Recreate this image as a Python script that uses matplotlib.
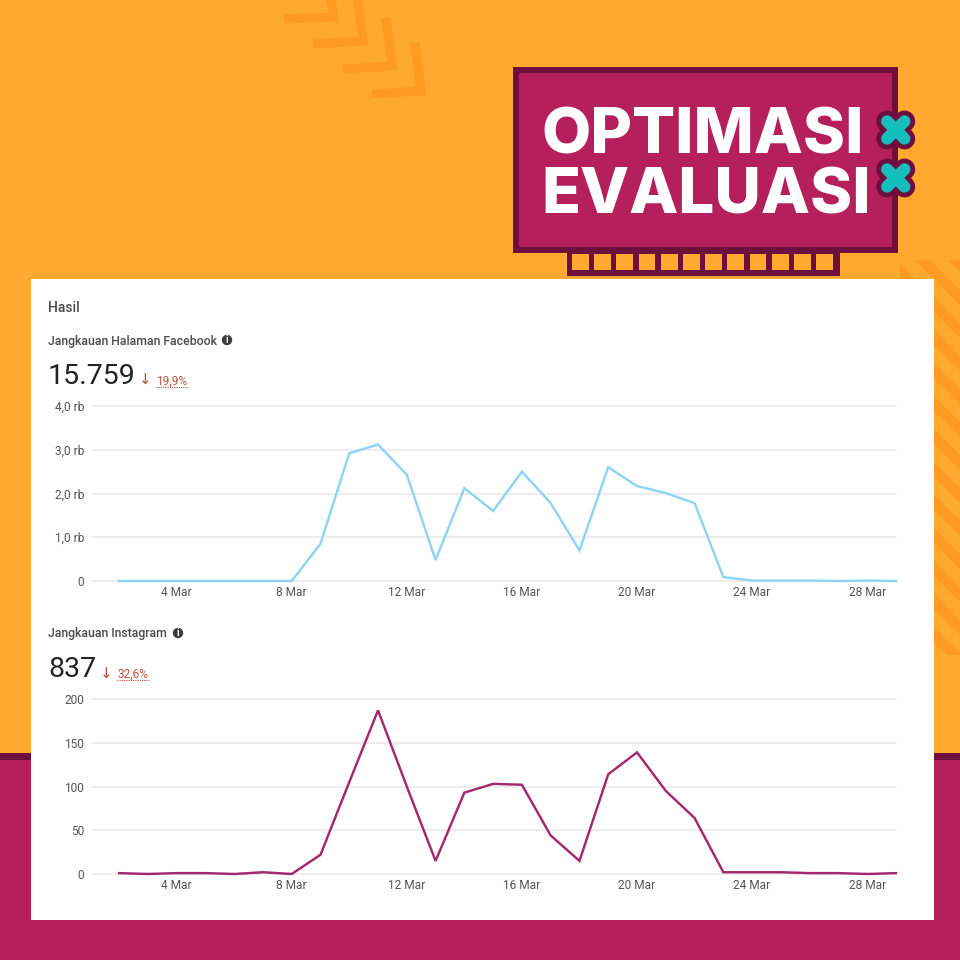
import matplotlib
matplotlib.use("Agg")
import matplotlib.pyplot as plt
from matplotlib.patches import Rectangle, Polygon, Circle

plt.rcParams['font.family'] = ['Roboto', 'DejaVu Sans']

# data
days = list(range(2, 30))
facebook_reach = [0, 0, 0, 0, 0, 0, 0, 0.85, 2.92, 3.12, 2.43, 0.48, 2.12, 1.6,
                  2.5, 1.78, 0.7, 2.6, 2.17, 2.01, 1.78, 0.09, 0.01, 0.01, 0.01,
                  0, 0.01, 0]
instagram_reach = [1, 0, 1, 1, 0, 2, 0, 22, 105, 187, 100, 15, 93, 103,
                   102, 44, 15, 114, 139, 95, 64, 2, 2, 2, 1, 1, 0, 1]
x_ticks = [4, 8, 12, 16, 20, 24, 28]
x_labels = ['4 Mar', '8 Mar', '12 Mar', '16 Mar', '20 Mar', '24 Mar', '28 Mar']
fb_ticks = [0, 1, 2, 3, 4]
fb_labels = ['0', '1,0 rb', '2,0 rb', '3,0 rb', '4,0 rb']
ig_ticks = [0, 50, 100, 150, 200]
ig_labels = ['0', '50', '100', '150', '200']

# warna
ORANGE = '#FFA931'
ORANGE_DARK = '#FF9A22'
CRIMSON = '#B5205C'
MAROON = '#6E0E3C'
TEAL = '#12BFBD'
FB_LINE = '#8FD4F6'
IG_LINE = '#A3286F'
GRID = '#E9E9E9'
TEXT = '#4A4A4A'
RED = '#B9523F'

fig = plt.figure(figsize=(9.6, 9.6), dpi=100, facecolor=ORANGE)

# background layer in pixel coordinates
bg = fig.add_axes([0, 0, 1, 1])
bg.set_xlim(0, 960)
bg.set_ylim(960, 0)
bg.axis('off')

bg.add_patch(Rectangle((0, 753), 960, 7, fc=MAROON, ec='none'))
bg.add_patch(Rectangle((0, 760), 960, 200, fc=CRIMSON, ec='none'))

# chevrons top
for sx, sy, cx, cy, ex, ey in [(284, 19, 334, 17, 330, -5),
                               (313, 44, 363, 41, 357, -5),
                               (343, 69, 392, 66, 386, 18),
                               (372, 94, 421, 91, 415, 43)]:
    bg.plot([sx, cx, ex], [sy, cy, ey], color=ORANGE_DARK, lw=6.5,
            solid_joinstyle='miter', solid_capstyle='butt')

# stripes right
clip = Rectangle((900, 260), 60, 395, transform=bg.transData)
for off in range(622, 130, -33):
    stripe = Polygon([(off + 260 - 400, 260 - 400), (off + 275 - 400, 260 - 400),
                      (off + 275 + 500, 260 + 500), (off + 260 + 500, 260 + 500)],
                     fc=ORANGE_DARK, ec='none')
    bg.add_patch(stripe)
    stripe.set_clip_path(clip)
for off in [655, 688]:
    stripe = Polygon([(off + 260, 260), (off + 275, 260), (off + 275 + 400, 660),
                      (off + 260 + 400, 660)], fc=ORANGE_DARK, ec='none')
    bg.add_patch(stripe)
    stripe.set_clip_path(clip)

# white panel
bg.add_patch(Rectangle((31, 279), 903, 641, fc='white', ec='none', zorder=2))

# badge
bg.add_patch(Rectangle((516, 70), 379, 180, fc=CRIMSON, ec=MAROON, lw=4.3,
                       joinstyle='miter', zorder=3))
bg.add_patch(Rectangle((566.5, 253), 273, 23, fc=MAROON, ec='none', zorder=3))
for i in range(12):
    bg.add_patch(Rectangle((572 + i * 22.2, 254), 16.8, 16, fc=ORANGE, ec='none', zorder=4))
bg.text(541, 154, 'OPTIMASI', color='white', fontsize=46, fontweight=800,
        family=['Inter', 'DejaVu Sans'], va='baseline', ha='left', zorder=5)
bg.text(541, 213, 'EVALUASI', color='white', fontsize=46, fontweight=800,
        family=['Inter', 'DejaVu Sans'], va='baseline', ha='left', zorder=5)

for cy in [130, 178]:
    for dy in [-1, 1]:
        bg.plot([887, 904.5], [cy - dy * 8.7, cy + dy * 8.7], color=MAROON, lw=15.5,
                solid_capstyle='round', zorder=6)
for cy in [130, 178]:
    for dy in [-1, 1]:
        bg.plot([887, 904.5], [cy - dy * 8.7, cy + dy * 8.7], color=TEAL, lw=8.6,
                solid_capstyle='round', zorder=7)


def info_icon(x, y):
    bg.add_patch(Circle((x, y), 5.2, fc='#3C3C3C', ec='none', zorder=5))
    bg.text(x, y + 0.3, 'i', color='white', fontsize=7, fontweight='bold',
            ha='center', va='center', zorder=6)


def metric_header(title, title_y, icon_x, value, arrow_x, pct, pct_x, pct_end):
    bg.text(48, title_y + 1, title, color=TEXT, fontsize=8.85, fontweight='medium',
            va='center', zorder=5)
    info_icon(icon_x, title_y)
    bg.text(48, title_y + 36.5, value, color='#222222', fontsize=20.5, va='center', zorder=5)
    bg.text(arrow_x, title_y + 40, '↓', color=RED, fontsize=11, ha='center',
            va='center', family=['DejaVu Sans'], zorder=5)
    bg.text(pct_x, title_y + 41, pct, color=RED, fontsize=8.6, va='center', zorder=5)
    bg.plot([pct_x, pct_end], [title_y + 46.5, title_y + 46.5], color=RED, lw=0.8,
            ls=(0, (1, 1)), zorder=5)


bg.text(48, 308, 'Hasil', color=TEXT, fontsize=10, fontweight='medium', va='center', zorder=5)
metric_header('Jangkauan Halaman Facebook', 340, 227, '15.759', 145, '19,9%', 156, 188)
metric_header('Jangkauan Instagram', 633, 178, '837', 106, '32,6%', 117, 149)


def draw_chart(top, values, color, ticks, labels, ymax):
    ax = fig.add_axes([92 / 960, 1 - (top + 175) / 960, 804 / 960, 175 / 960])
    ax.patch.set_alpha(0)
    ax.plot(days, values, color=color, lw=1.75, clip_on=False, zorder=3,
            solid_joinstyle='miter')
    ax.set_xlim(1.06, 29)
    ax.set_ylim(0, ymax)
    ax.set_xticks(x_ticks)
    ax.set_xticklabels(x_labels)
    ax.set_yticks(ticks)
    ax.set_yticklabels(labels)
    ax.tick_params(axis='both', length=0, labelsize=8.6, labelcolor='#555555')
    ax.tick_params(axis='y', pad=5.5)
    ax.tick_params(axis='x', pad=3.8)
    ax.grid(True, axis='y', color=GRID, lw=1.1)
    ax.set_axisbelow(True)
    for spine in ax.spines.values():
        spine.set_visible(False)
    for gl in ax.get_ygridlines():
        gl.set_clip_on(False)
    return ax


draw_chart(406, facebook_reach, FB_LINE, fb_ticks, fb_labels, 4)
draw_chart(699, instagram_reach, IG_LINE, ig_ticks, ig_labels, 200)

fig.savefig('out.png', dpi=100, facecolor=fig.get_facecolor())
